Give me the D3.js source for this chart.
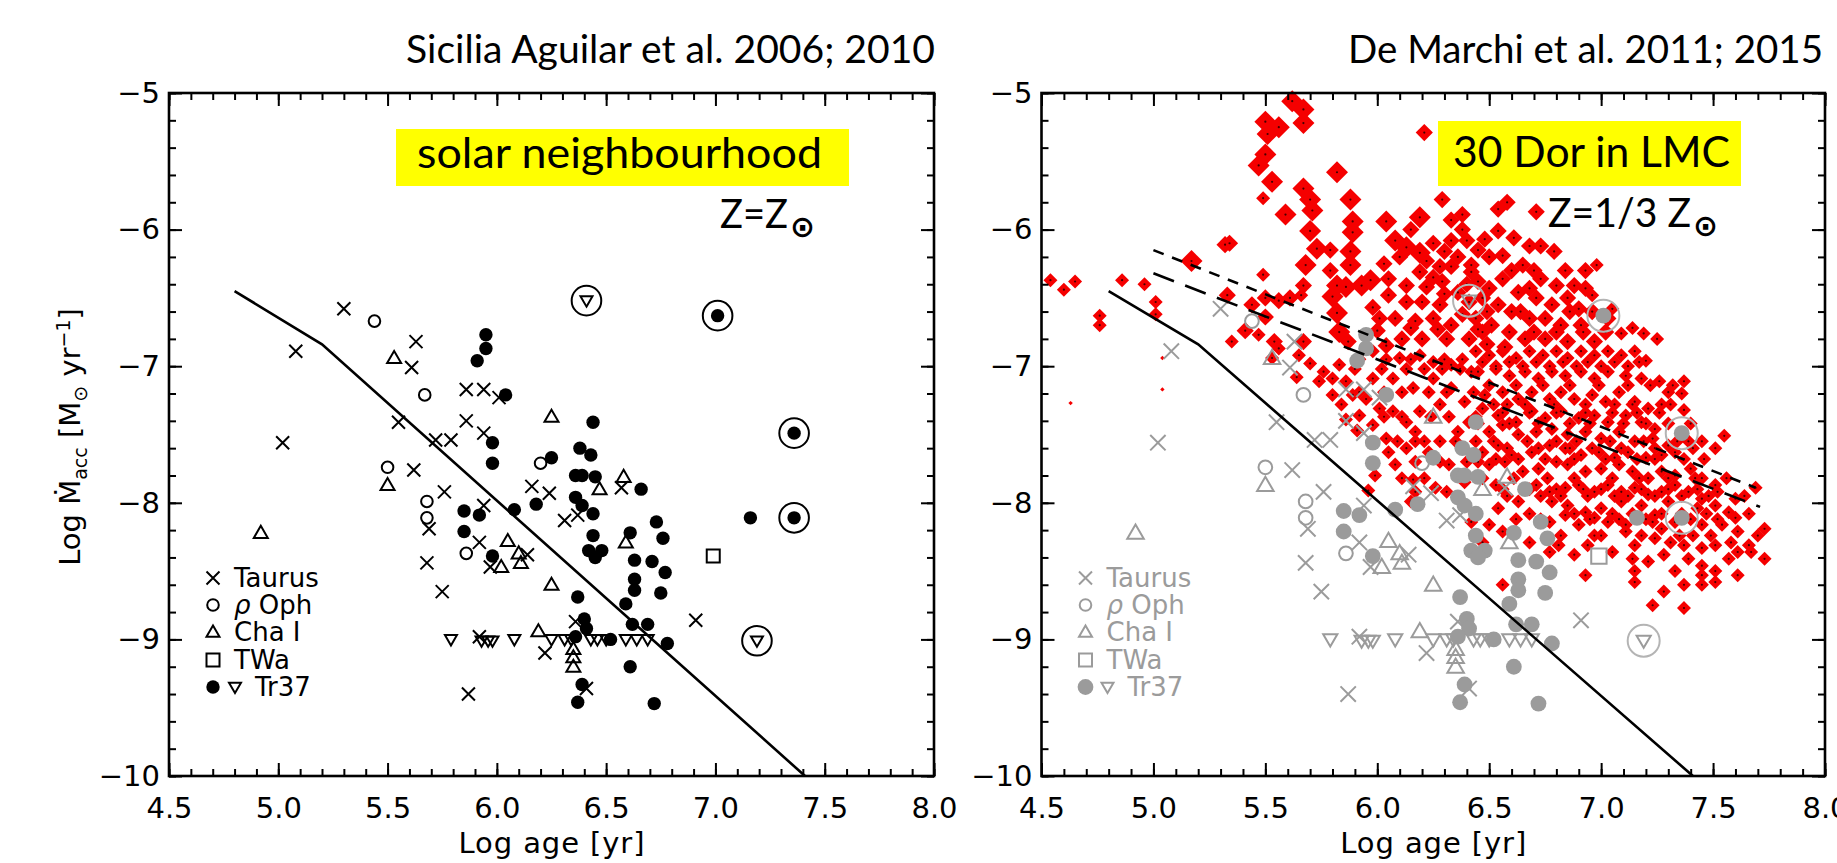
<!DOCTYPE html>
<html>
<head>
<meta charset="utf-8">
<script src="https://cdn.jsdelivr.net/npm/d3@7"></script>
<style>
  body { margin: 0; background: #fff; }
  text { font-family: "DejaVu Sans", sans-serif; }
</style>
</head>
<body>
<script>
// axis setup
var xDomain = [4.5, 8.0];
var yDomain = [-10, -5];
var xTickValues = [4.5, 5.0, 5.5, 6.0, 6.5, 7.0, 7.5, 8.0];
var yTickValues = [-10, -9, -8, -7, -6, -5];
var legendLabels = ['Taurus', 'ρ Oph', 'Cha I', 'TWa', 'Tr37'];

// solid line (left and right) and the two dashed lines (right only)
var modelLine = [[4.80, -6.45], [5.20, -6.84], [7.41, -10.0]];
var dashUpper = [[5.00, -6.15], [7.69, -7.89]];
var dashLower = [[5.00, -6.32], [7.71, -8.03]];

// solar neighbourhood samples [log age, log Macc]
var taurus = [[5.30,-6.58],[5.08,-6.89],[5.63,-6.82],[5.61,-7.01],[5.86,-7.17],[5.94,-7.17],[6.01,-7.23],
  [5.55,-7.41],[5.86,-7.40],[5.94,-7.49],[5.72,-7.54],[5.79,-7.54],[5.02,-7.56],[5.62,-7.76],[5.76,-7.92],
  [6.16,-7.88],[6.24,-7.93],[5.94,-8.02],[5.69,-8.19],[6.57,-7.89],[6.31,-8.13],[6.37,-8.09],[5.68,-8.44],
  [5.92,-8.29],[5.97,-8.47],[6.14,-8.38],[5.75,-8.65],[6.91,-8.86],[5.92,-8.98],[6.36,-8.87],[6.22,-9.10],
  [6.41,-9.36],[5.87,-9.40]];
var rhoOph = [[5.44,-6.67],[5.67,-7.21],[6.20,-7.71],[5.50,-7.74],[5.68,-7.99],[5.68,-8.11],[5.86,-8.37]];
var chaI = [[5.53,-6.94],[6.25,-7.37],[6.58,-7.81],[6.47,-7.90],[5.50,-7.87],[4.92,-8.22],[6.05,-8.28],
  [6.59,-8.29],[6.02,-8.47],[6.10,-8.37],[6.11,-8.44],[6.25,-8.60],[6.19,-8.94],[6.35,-9.07],[6.35,-9.13],
  [6.35,-9.20]];
var twa = [[6.99,-8.39]];
var tr37Filled = [[5.95,-6.77],[5.95,-6.87],[5.91,-6.96],[6.04,-7.21],[6.44,-7.41],[5.98,-7.56],[6.38,-7.60],
  [6.43,-7.65],[6.25,-7.67],[5.98,-7.71],[6.36,-7.80],[6.39,-7.80],[6.45,-7.81],[6.66,-7.90],[6.36,-7.96],
  [6.39,-8.02],[6.18,-8.01],[6.08,-8.05],[5.85,-8.06],[5.92,-8.09],[6.44,-8.08],[6.73,-8.14],[7.16,-8.11],
  [5.85,-8.21],[6.44,-8.24],[6.61,-8.22],[6.76,-8.26],[6.42,-8.35],[6.48,-8.35],[6.45,-8.40],[5.98,-8.39],
  [6.63,-8.42],[6.71,-8.43],[6.77,-8.51],[6.63,-8.56],[6.63,-8.64],[6.75,-8.66],[6.37,-8.69],[6.59,-8.74],
  [6.40,-8.85],[6.41,-8.92],[6.62,-8.89],[6.69,-8.89],[6.36,-8.98],[6.52,-9.00],[6.78,-9.03],[6.61,-9.20],
  [6.39,-9.33],[6.37,-9.46],[6.72,-9.47]];
var tr37Open = [[5.79,-9.00],[5.93,-9.01],[5.96,-9.01],[5.98,-9.01],[6.08,-9.00],[6.25,-9.00],[6.31,-9.00],
  [6.34,-9.00],[6.43,-9.00],[6.46,-9.00],[6.50,-9.00],[6.59,-9.00],[6.64,-9.00],[6.69,-9.00]];
var tr37FilledCircled = [[7.01,-6.63],[7.36,-7.49],[7.36,-8.11]];
var tr37OpenCircled = [[6.41,-6.52],[7.19,-9.01]];

// 30 Dor stars, grouped by how big the diamond is drawn
var redBig = [[5.62,-5.06],[5.67,-5.12],[5.67,-5.22],[5.50,-5.21],[5.56,-5.25],[5.51,-5.30],[5.50,-5.45],
  [5.47,-5.53],[5.82,-5.58],[5.53,-5.65],[5.67,-5.70],[5.70,-5.78],[5.71,-5.86],[5.59,-5.89],[5.88,-5.78],
  [5.89,-5.94],[5.89,-6.02],[5.70,-6.01],[6.04,-5.94],[6.19,-5.91],[6.08,-6.08],[5.73,-6.14],[5.88,-6.16],
  [6.13,-6.13],[6.19,-6.17],[5.17,-6.23],[5.68,-6.26],[5.88,-6.26],[5.82,-6.41],[5.86,-6.42],[5.93,-6.41],
  [5.97,-6.37],[5.80,-6.49],[5.82,-6.61],[5.83,-6.75]];
var redMid = [[6.21,-5.29],[6.29,-5.78],[6.33,-5.93],[6.38,-5.89],[5.79,-6.15],[6.33,-6.08],[6.40,-6.08],
  [6.30,-6.16],[5.32,-6.11],[5.34,-6.10],[5.79,-6.30],[5.33,-6.48],[5.67,-6.41],[5.50,-6.50],[5.56,-6.52],
  [5.61,-6.50],[5.44,-6.55],[5.50,-6.64],[5.41,-6.74],[5.54,-6.82],[5.67,-6.82],[6.01,-6.65],[6.04,-6.85],
  [5.87,-6.82],[6.03,-6.25],[6.10,-6.20],[6.19,-6.31],[6.28,-6.27],[6.33,-6.27],[6.05,-6.36],[6.13,-6.41],
  [6.22,-6.42],[6.29,-6.38],[5.98,-6.57],[6.05,-6.48],[6.13,-6.53],[6.20,-6.53],[6.28,-6.55],[6.08,-6.65],
  [6.17,-6.67],[6.25,-6.65],[6.33,-6.70],[6.11,-6.80],[6.20,-6.80],[6.31,-6.80],[6.41,-6.80],[6.42,-6.31],
  [6.36,-6.46],[6.41,-6.53],[6.15,-6.00],[6.25,-6.10],[6.36,-6.20],[6.22,-6.23],[6.40,-6.40],[6.30,-6.47],
  [6.25,-6.35],[6.45,-6.15],[6.38,-6.62],[6.15,-6.72],[6.27,-6.73],[6.45,-6.73],[6.00,-6.74],[6.38,-6.00],
  [6.58,-5.80],[6.54,-5.85],[6.71,-5.87],[6.54,-6.01],[6.48,-6.07],[6.61,-6.06],[6.79,-6.16],[6.56,-6.19],
  [6.50,-6.20],[6.65,-6.26],[6.73,-6.36],[6.80,-6.41],[6.88,-6.41],[6.42,-6.26],[6.45,-6.38],[6.56,-6.36],
  [6.63,-6.46],[6.71,-6.50],[6.78,-6.55],[6.85,-6.50],[6.90,-6.58],[6.47,-6.50],[6.54,-6.55],[6.60,-6.60],
  [6.68,-6.65],[6.75,-6.65],[6.82,-6.70],[6.91,-6.70],[6.44,-6.65],[6.51,-6.70],[6.59,-6.75],[6.66,-6.80],
  [6.75,-6.80],[6.85,-6.82],[6.97,-6.82],[7.03,-6.65],[6.49,-6.84],[6.57,-6.86],
  [6.68,-6.12],[6.73,-6.12],[6.60,-6.30],[6.70,-6.30],[6.84,-6.30],[6.93,-6.30],[6.50,-6.43],[6.68,-6.43],
  [6.93,-6.43],[6.49,-6.60],[6.64,-6.60],[6.86,-6.60],[6.96,-6.60],[6.47,-6.75],[6.70,-6.75],[6.80,-6.75],
  [6.92,-6.75],[7.02,-6.75]];
var redSmall = [[5.49,-5.77],[5.49,-6.33],[4.96,-6.40],[5.01,-6.53],[5.66,-6.48],[5.47,-6.77],[5.35,-6.82],
  [4.54,-6.37],[4.60,-6.44],[4.65,-6.38],[4.76,-6.63],[4.76,-6.70],[4.86,-6.37],[5.01,-6.62],
  [6.98,-6.26],[6.96,-6.48],[7.05,-6.58],[7.09,-6.76],[7.14,-6.72],[7.19,-6.76],[7.25,-6.80],
  [5.53,-6.94],[5.64,-7.08],[5.70,-6.98],[5.76,-7.04],[5.83,-6.99],[5.74,-7.11],[5.80,-7.21],[5.84,-7.28],
  [5.89,-7.21],[5.86,-7.39],[5.92,-7.36],[5.98,-7.43],[6.01,-7.31],[6.07,-7.33],[6.04,-7.53],[6.05,-7.63],
  [6.09,-7.55],[6.08,-7.72],[6.13,-7.60],[6.13,-7.41],[6.17,-7.48],[6.11,-7.82],[6.16,-7.83],[6.21,-7.82],
  [6.17,-7.92],[6.15,-7.99],[6.23,-7.63],[6.28,-7.55],[6.32,-7.72],[6.36,-7.48],[6.41,-7.41],[6.39,-7.85],
  [6.42,-8.14],[6.19,-7.33],[6.28,-7.28],[6.33,-7.16],[6.39,-7.26],[5.95,-7.24],[5.98,-7.09],[6.07,-7.09],
  [6.16,-7.16],[6.25,-7.09],[6.33,-6.99],[6.42,-7.04],[6.10,-6.94],[6.19,-6.92],[6.25,-6.97],[5.86,-7.11],
  [5.80,-7.09],[5.98,-6.89],[5.56,-6.87],[5.65,-6.92],[5.91,-7.47],[5.99,-7.80],[6.26,-7.89],[6.31,-7.92],
  [5.96,-7.91],
  [6.44,-6.89],[6.50,-6.92],[6.56,-6.89],[6.62,-6.94],[6.68,-6.89],[6.74,-6.92],[6.80,-6.89],[6.85,-6.94],
  [6.91,-6.89],[6.97,-6.92],[7.03,-6.89],[7.09,-6.92],[7.15,-6.89],[7.20,-6.96],
  [6.45,-7.04],[6.53,-7.02],[6.59,-7.07],[6.66,-7.04],[6.72,-7.09],[6.78,-7.04],[6.84,-7.07],[6.91,-7.04],
  [6.97,-7.09],[7.03,-7.04],[7.11,-7.07],[7.18,-7.09],[7.26,-7.11],
  [6.48,-7.21],[6.56,-7.19],[6.63,-7.24],[6.69,-7.19],[6.77,-7.24],[6.82,-7.19],[6.88,-7.24],[6.96,-7.21],
  [7.02,-7.26],[7.08,-7.19],[7.15,-7.26],[7.21,-7.31],[7.30,-7.19],[7.36,-7.20],[7.37,-7.11],
  [6.47,-7.31],[6.54,-7.36],[6.62,-7.41],[6.69,-7.33],[6.75,-7.38],[6.82,-7.33],[6.90,-7.38],[6.97,-7.36],
  [7.03,-7.41],[7.11,-7.36],[7.18,-7.41],[7.24,-7.46],[7.31,-7.28],[7.37,-7.32],
  [6.50,-7.48],[6.56,-7.43],[6.63,-7.50],[6.71,-7.48],[6.78,-7.46],[6.85,-7.50],[6.93,-7.48],[7.00,-7.53],
  [7.08,-7.48],[7.15,-7.55],[7.23,-7.53],[7.30,-7.58],
  [6.47,-7.63],[6.54,-7.58],[6.60,-7.65],[6.69,-7.63],[6.77,-7.58],[6.84,-7.60],[6.91,-7.65],[6.99,-7.63],
  [7.06,-7.67],[7.12,-7.63],[7.20,-7.67],[7.27,-7.65],[7.33,-7.63],[7.39,-7.55],[7.51,-7.60],[7.55,-7.51],
  [6.50,-7.72],[6.57,-7.70],[6.65,-7.77],[6.72,-7.75],[6.80,-7.70],[6.85,-7.72],[6.93,-7.77],[7.00,-7.75],
  [7.08,-7.72],[7.14,-7.77],[7.21,-7.82],[7.27,-7.77],[7.33,-7.80],[7.40,-7.75],[7.45,-7.82],[7.51,-7.87],
  [6.53,-7.87],[6.71,-7.87],[6.77,-7.92],[6.84,-7.89],[6.90,-7.87],[6.97,-7.92],[7.03,-7.87],[7.09,-7.92],
  [7.15,-7.89],[7.21,-7.94],[7.27,-7.92],[7.33,-7.87],[7.39,-7.92],[7.45,-7.97],[7.52,-7.92],[7.60,-7.97],
  [7.69,-7.89],
  [6.54,-8.04],[6.63,-7.99],[6.78,-7.99],[6.85,-8.02],[6.93,-8.07],[7.00,-8.04],[7.09,-7.99],[7.18,-8.02],
  [7.24,-8.09],[7.30,-7.99],[7.43,-8.04],[7.51,-8.02],[7.57,-8.07],[7.60,-8.11],
  [6.50,-8.16],[6.56,-8.21],[6.68,-8.29],[6.77,-8.14],[6.84,-8.09],[6.90,-8.16],[6.97,-8.11],[7.03,-8.14],
  [7.11,-8.16],[7.23,-8.14],[7.27,-8.19],[7.33,-8.14],[7.45,-8.16],[7.54,-8.16],[7.61,-8.21],[7.73,-8.19],
  [6.47,-8.29],[6.77,-8.36],[6.81,-8.31],[6.94,-8.31],[6.97,-8.24],[7.05,-8.36],[7.11,-8.21],[7.15,-8.31],
  [7.24,-8.26],[7.31,-8.29],[7.37,-8.31],[7.45,-8.33],[7.51,-8.31],[7.58,-8.29],[7.66,-8.31],
  [6.88,-8.38],[6.93,-8.53],[7.14,-8.41],[7.15,-8.50],[7.21,-8.43],[7.28,-8.38],[7.33,-8.50],[7.39,-8.41],
  [7.45,-8.46],[7.51,-8.50],[7.57,-8.41],[7.61,-8.36],[7.67,-8.36],[7.73,-8.41],
  [6.56,-8.60],[7.15,-8.58],[7.28,-8.65],[7.37,-8.60],[7.45,-8.53],[7.51,-8.58],[7.61,-8.53],[7.45,-8.60],
  [7.23,-8.75],[7.37,-8.77],
  // densest part of the cloud
  [6.47,-6.97],[6.59,-6.97],[6.71,-6.97],[6.83,-6.97],[6.94,-6.97],[7.06,-6.97],[7.17,-6.97],
  [6.50,-7.14],[6.62,-7.14],[6.74,-7.14],[6.86,-7.14],[6.99,-7.14],[7.12,-7.14],[7.22,-7.14],[7.32,-7.14],
  [6.52,-7.28],[6.58,-7.28],[6.66,-7.28],[6.79,-7.28],[6.93,-7.28],[7.06,-7.28],[7.14,-7.28],[7.27,-7.28],
  [6.45,-7.42],[6.59,-7.42],[6.72,-7.42],[6.86,-7.42],[6.95,-7.42],[7.10,-7.42],[7.20,-7.42],[7.30,-7.42],
  [7.40,-7.42],
  [6.52,-7.55],[6.67,-7.55],[6.80,-7.55],[6.89,-7.55],[7.04,-7.55],[7.19,-7.55],[7.34,-7.55],[7.45,-7.55],
  [6.53,-7.68],[6.63,-7.68],[6.75,-7.68],[6.88,-7.68],[7.02,-7.68],[7.16,-7.68],[7.24,-7.68],[7.37,-7.68],
  [7.46,-7.68],
  [6.47,-7.82],[6.61,-7.82],[6.76,-7.82],[6.88,-7.82],[7.05,-7.82],[7.17,-7.82],[7.30,-7.82],[7.42,-7.82],
  [7.56,-7.82],
  [6.58,-7.95],[6.73,-7.95],[6.82,-7.95],[6.94,-7.95],[7.06,-7.95],[7.12,-7.95],[7.24,-7.95],[7.36,-7.95],
  [7.48,-7.95],[7.64,-7.95],
  [6.68,-8.08],[6.88,-8.08],[7.05,-8.08],[7.14,-8.08],[7.27,-8.08],[7.36,-8.08],[7.47,-8.08],[7.66,-8.08],
  [6.82,-8.24],[7.00,-8.24],[7.18,-8.24],[7.35,-8.24],[7.41,-8.24],[7.49,-8.24],[7.70,-8.24],
  [5.92,-6.95],[6.04,-6.95],[6.15,-6.95],[6.30,-6.95],[6.38,-6.95],
  [5.90,-7.02],[6.02,-7.02],[6.13,-7.02],[6.21,-7.02],[6.29,-7.02],[6.37,-7.02],
  [5.92,-7.19],[6.03,-7.19],[6.11,-7.19],[6.23,-7.19],[6.31,-7.19],[6.43,-7.19],
  [6.03,-7.37],[6.11,-7.37],[6.24,-7.37],[6.32,-7.37],[6.44,-7.37],
  [6.17,-7.55],[6.21,-7.55],[6.35,-7.55],[6.44,-7.55],
  [6.17,-7.70],[6.28,-7.70],[6.40,-7.70],[6.45,-7.70],
  [6.53,-7.00],[6.65,-7.00],[6.77,-7.00],[6.89,-7.00],[7.00,-7.00],[7.12,-7.00],
  [6.56,-7.34],[6.68,-7.34],[6.80,-7.34],[6.93,-7.34],[7.05,-7.34],[7.16,-7.34],[7.26,-7.34],
  [6.58,-7.60],[6.72,-7.60],[6.86,-7.60],[6.96,-7.60],[7.09,-7.60],[7.24,-7.60],[7.41,-7.60],
  [6.56,-7.90],[6.68,-7.90],[6.80,-7.90],[6.92,-7.90],[7.00,-7.90],[7.18,-7.90],[7.30,-7.90],[7.43,-7.90],
  [6.62,-8.12],[6.73,-8.12],[6.95,-8.12],[7.08,-8.12],[7.20,-8.12],[7.40,-8.12],[7.52,-8.12]];
var redTiny = [[4.63,-7.27],[5.04,-7.17],[5.04,-6.94]];

var W = 1837, H = 863;
var svg = d3.select('body').append('svg')
  .attr('width', W)
  .attr('height', H)
  .style('background', '#fff');

var markerPath = {
  cross: function(s) { return 'M' + (-s) + ',' + (-s) + 'L' + s + ',' + s + 'M' + (-s) + ',' + s + 'L' + s + ',' + (-s); },
  up: function(s) { return 'M0,' + (-s) + 'L' + s + ',' + (s * 0.72) + 'L' + (-s) + ',' + (s * 0.72) + 'Z'; },
  down: function(s) { return 'M0,' + s + 'L' + s + ',' + (-s * 0.72) + 'L' + (-s) + ',' + (-s * 0.72) + 'Z'; },
  square: function(s) { return 'M' + (-s) + ',' + (-s) + 'H' + s + 'V' + s + 'H' + (-s) + 'Z'; },
  diamond: function(s) { return 'M0,' + (-s) + 'L' + s + ',0L0,' + s + 'L' + (-s) + ',0Z'; }
};

function drawPanel(p) {
  var x = d3.scaleLinear().domain(xDomain).range([p.x0, p.x1]);
  var y = d3.scaleLinear().domain(yDomain).range([776, 93]);
  var g = svg.append('g');
  var ink = p.gray ? '#9b9b9b' : '#000';
  var k = p.gray ? 1.18 : 1;

  // red diamonds of 30 Dor (right panel only)
  if (p.red) {
    var red = g.append('g');
    [[redTiny, 2.2], [redSmall, 7.0], [redMid, 8.6], [redBig, 11]].forEach(function(grp) {
      red.selectAll(null).data(grp[0]).enter().append('path')
        .attr('transform', function(d) { return 'translate(' + x(d[0]) + ',' + y(d[1]) + ')'; })
        .attr('d', markerPath.diamond(grp[1]))
        .attr('fill', '#f50000');
      if (grp[1] > 3) {
        red.selectAll(null).data(grp[0]).enter().append('circle')
          .attr('cx', function(d) { return x(d[0]); })
          .attr('cy', function(d) { return y(d[1]); })
          .attr('r', 1.1)
          .attr('fill', '#400');
      }
    });
  }

  var pts = g.append('g');
  function sym(data, shape, size, filled) {
    pts.selectAll(null).data(data).enter().append('path')
      .attr('transform', function(d) { return 'translate(' + x(d[0]) + ',' + y(d[1]) + ')'; })
      .attr('d', markerPath[shape](size * k))
      .attr('fill', filled ? ink : 'none')
      .attr('stroke', ink)
      .attr('stroke-width', 2);
  }
  function dots(data, r, filled) {
    pts.selectAll(null).data(data).enter().append('circle')
      .attr('cx', function(d) { return x(d[0]); })
      .attr('cy', function(d) { return y(d[1]); })
      .attr('r', r * k)
      .attr('fill', filled ? ink : 'none')
      .attr('stroke', ink)
      .attr('stroke-width', filled ? 0 : 2);
  }
  sym(taurus, 'cross', 6.5, false);
  dots(rhoOph, 5.8, false);
  sym(chaI, 'up', 7, false);
  sym(twa, 'square', 6.5, false);
  sym(tr37Open, 'down', 6, false);
  dots(tr37Filled, 6.7, true);
  dots(tr37FilledCircled, 6.7, true);
  sym(tr37OpenCircled, 'down', 6, false);
  pts.selectAll(null).data(tr37FilledCircled.concat(tr37OpenCircled)).enter().append('circle')
    .attr('cx', function(d) { return x(d[0]); })
    .attr('cy', function(d) { return y(d[1]); })
    .attr('r', p.gray ? 16 : 14.8)
    .attr('fill', 'none')
    .attr('stroke', p.gray ? '#b4b4b4' : '#000')
    .attr('stroke-width', 2);

  // lines
  var line = d3.line().x(function(d) { return x(d[0]); }).y(function(d) { return y(d[1]); });
  g.append('path').attr('d', line(modelLine))
    .attr('fill', 'none').attr('stroke', '#000').attr('stroke-width', 2.6);
  if (p.red) {
    g.append('path').attr('d', line(dashUpper))
      .attr('fill', 'none').attr('stroke', '#000').attr('stroke-width', 2.6)
      .attr('stroke-dasharray', '11,9');
    g.append('path').attr('d', line(dashLower))
      .attr('fill', 'none').attr('stroke', '#000').attr('stroke-width', 2.6)
      .attr('stroke-dasharray', '22,12');
  }

  // legend
  var lg = g.append('g').attr('fill', ink);
  var lx = x(4.5) + 44, rows = [578, 605, 632, 660, 687];
  var lshape = ['cross', null, 'up', 'square'];
  rows.forEach(function(ry, i) {
    if (i === 1) {
      lg.append('circle').attr('cx', lx).attr('cy', ry).attr('r', 5.8).attr('fill', 'none')
        .attr('stroke', ink).attr('stroke-width', 2);
    } else if (i === 4) {
      lg.append('circle').attr('cx', lx).attr('cy', ry).attr('r', 6.7 * k).attr('fill', ink);
      lg.append('path').attr('transform', 'translate(' + (lx + 22) + ',' + ry + ')')
        .attr('d', markerPath.down(6)).attr('fill', 'none').attr('stroke', ink).attr('stroke-width', 2);
    } else {
      lg.append('path').attr('transform', 'translate(' + lx + ',' + ry + ')')
        .attr('d', markerPath[lshape[i]](6.5)).attr('fill', 'none')
        .attr('stroke', ink).attr('stroke-width', 2);
    }
    var t = lg.append('text').attr('x', i === 4 ? lx + 42 : lx + 21).attr('y', ry + 9)
      .attr('font-size', 26);
    if (i === 1) {
      t.append('tspan').attr('font-style', 'italic').text('ρ');
      t.append('tspan').text(' Oph');
    } else {
      t.text(legendLabels[i]);
    }
  });

  // axes with inward ticks
  function axisStyle(sel) {
    sel.select('.domain').remove();
    sel.selectAll('.tick line').attr('stroke', '#000').attr('stroke-width', 2);
    sel.selectAll('text').attr('fill', '#000').attr('font-size', 29)
      .attr('font-family', '"DejaVu Sans", sans-serif');
  }
  var fmt = d3.format('.1f');
  g.append('g').attr('transform', 'translate(0,776)')
    .call(d3.axisBottom(x).tickValues(x.ticks(35)).tickSize(-7).tickFormat('')).call(axisStyle);
  g.append('g').attr('transform', 'translate(0,776)')
    .call(d3.axisBottom(x).tickValues(xTickValues).tickSize(-13).tickPadding(21).tickFormat(fmt)).call(axisStyle);
  g.append('g').attr('transform', 'translate(0,93)')
    .call(d3.axisTop(x).tickValues(x.ticks(35)).tickSize(-7).tickFormat('')).call(axisStyle);
  g.append('g').attr('transform', 'translate(0,93)')
    .call(d3.axisTop(x).tickValues(xTickValues).tickSize(-13).tickFormat('')).call(axisStyle);
  g.append('g').attr('transform', 'translate(' + p.x0 + ',0)')
    .call(d3.axisLeft(y).tickValues(y.ticks(25)).tickSize(-7).tickFormat('')).call(axisStyle);
  g.append('g').attr('transform', 'translate(' + p.x0 + ',0)')
    .call(d3.axisLeft(y).tickValues(yTickValues).tickSize(-13).tickPadding(9).tickFormat(d3.format('d'))).call(axisStyle);
  g.append('g').attr('transform', 'translate(' + p.x1 + ',0)')
    .call(d3.axisRight(y).tickValues(y.ticks(25)).tickSize(-7).tickFormat('')).call(axisStyle);
  g.append('g').attr('transform', 'translate(' + p.x1 + ',0)')
    .call(d3.axisRight(y).tickValues(yTickValues).tickSize(-13).tickFormat('')).call(axisStyle);

  g.append('rect')
    .attr('x', p.x0).attr('y', 93)
    .attr('width', p.x1 - p.x0).attr('height', 776 - 93)
    .attr('fill', 'none').attr('stroke', '#000').attr('stroke-width', 2.6);

  g.append('text')
    .attr('x', (p.x0 + p.x1) / 2).attr('y', 853)
    .attr('text-anchor', 'middle')
    .attr('font-size', 29)
    .attr('textLength', 186)
    .text('Log age [yr]');

  // caption texts (calibri-like)
  g.append('text')
    .attr('x', p.titleEnd).attr('y', 63)
    .attr('text-anchor', 'end')
    .style('font-family', 'Lato, "Open Sans", sans-serif')
    .attr('font-size', 38)
    .attr('textLength', p.titleLen)
    .attr('lengthAdjust', 'spacingAndGlyphs')
    .text(p.title);
  g.append('rect')
    .attr('x', p.box[0]).attr('y', p.box[1])
    .attr('width', p.box[2]).attr('height', p.box[3])
    .attr('fill', '#ffff00');
  g.append('text')
    .attr('x', p.boxText[0]).attr('y', p.boxText[1])
    .style('font-family', 'Lato, "Open Sans", sans-serif')
    .attr('font-size', 43)
    .attr('textLength', p.boxText[2])
    .attr('lengthAdjust', 'spacingAndGlyphs')
    .text(p.region);
  var z = g.append('text')
    .attr('x', p.zPos[0]).attr('y', p.zPos[1])
    .style('font-family', 'Lato, "Open Sans", sans-serif')
    .attr('font-size', 40);
  z.append('tspan').attr('textLength', p.zPos[2]).attr('lengthAdjust', 'spacingAndGlyphs').text(p.zText);
  z.append('tspan').attr('dy', 9).attr('dx', 2)
    .style('font-family', '"DejaVu Sans", sans-serif').attr('font-size', 30).attr('font-weight', 'bold').text('⊙');
}

drawPanel({
  x0: 169, x1: 934, gray: false, red: false,
  title: 'Sicilia Aguilar et al. 2006; 2010', titleEnd: 935, titleLen: 529,
  box: [396, 129, 453, 57], boxText: [417, 168, 405], region: 'solar neighbourhood',
  zPos: [720, 228, 68], zText: 'Z=Z'
});
drawPanel({
  x0: 1041.5, x1: 1825, gray: true, red: true,
  title: 'De Marchi et al. 2011; 2015', titleEnd: 1823, titleLen: 475,
  box: [1438, 121, 303, 65], boxText: [1453, 167, 277], region: '30 Dor in LMC',
  zPos: [1548, 227, 143], zText: 'Z=1/3 Z'
});

// y axis title of the left panel
var yl = svg.append('text')
  .attr('transform', 'translate(80,437) rotate(-90)')
  .attr('text-anchor', 'middle')
  .attr('font-size', 29);
yl.append('tspan').text('Log  Ṁ');
yl.append('tspan').attr('dy', 7).attr('font-size', 19).text('acc');
yl.append('tspan').attr('dy', -7).text('  [M');
yl.append('tspan').attr('dy', 7).attr('font-size', 19).text('⊙');
yl.append('tspan').attr('dy', -7).text(' yr');
yl.append('tspan').attr('dy', -10).attr('font-size', 19).text('−1');
yl.append('tspan').attr('dy', 10).text(']');
</script>
</body>
</html>
